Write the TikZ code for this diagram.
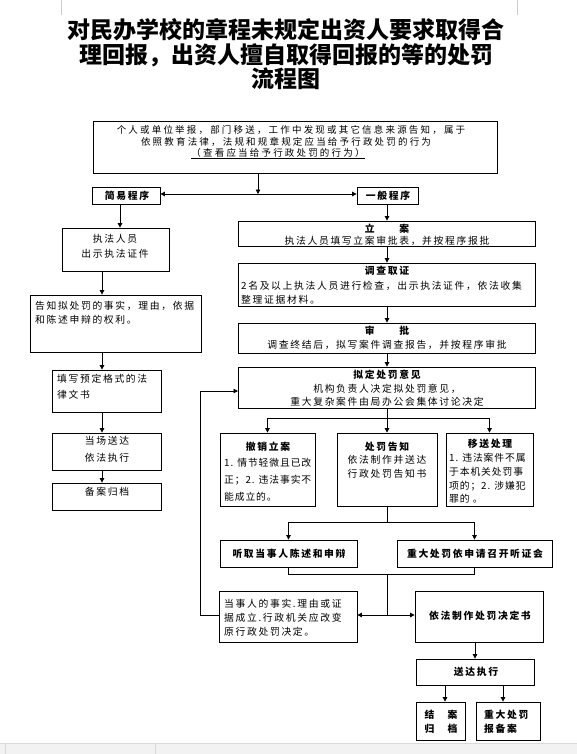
\documentclass[tikz,border=0pt]{standalone}
\usepackage{fontspec}
\usetikzlibrary{arrows.meta,fit}
\newfontfamily\cjk[LetterSpace=17]{Noto Sans CJK SC}
\newfontfamily\cjkn[LetterSpace=9]{Noto Sans CJK SC}
\newfontfamily\cjktop[LetterSpace=23]{Noto Sans CJK SC}
\newfontfamily\cjktitle{Noto Sans CJK SC}
\tikzset{
  box/.style={draw, line width=0.8pt, inner sep=0pt},
  tx/.style={inner sep=0pt, font=\cjk\fontsize{9.8}{13}\selectfont},
  txn/.style={inner sep=0pt, font=\cjkn\fontsize{9.8}{13}\selectfont},
  txt/.style={inner sep=0pt, font=\cjktop\fontsize{9.5}{12}\selectfont},
  tb/.style={inner sep=0pt, font=\cjk\bfseries\fontsize{9.8}{13}\selectfont},
  ttl/.style={inner sep=0pt, font=\cjktitle\bfseries\fontsize{23}{26}\selectfont},
  arr/.style={line width=0.8pt, -{Triangle[length=4.5pt,width=4.5pt]}},
  ln/.style={line width=0.8pt},
  marks/.style={draw=gray!40, line width=0.6pt}
}
\begin{document}
\begin{tikzpicture}[x=1pt,y=-1pt]
\useasboundingbox (0,0) rectangle (577,754);
\fill[white] (0,0) rectangle (577,754);
% page corner marks and status bar
\draw[marks] (61,0) -- (61,15);
\draw[marks] (517,0) -- (517,15);
\fill[gray!10] (0,743) rectangle (577,754);
\draw[gray!30] (0,743) -- (577,743);
\draw[gray!30] (5,743) -- (5,754);
\draw[gray!30] (155,743) -- (155,754);

% title
\node[ttl] (ti1) at (286,30) {对民办学校的章程未规定出资人要求取得合};
\node[ttl] (ti2) at (286,55) {理回报，出资人擅自取得回报的等的处罚};
\node[ttl] (ti3) at (286,79) {流程图};

% boxes
\node[box, fit={(93,121) (497,173)}] (top) {};
\node[box, fit={(92,187) (160,204)}] (jy) {};
\node[box, fit={(357,187) (418,204)}] (yb) {};
\node[box, fit={(62,228) (169,271)}] (zf) {};
\node[box, fit={(30,295) (201,352)}] (gz) {};
\node[box, fit={(52,370) (161,412)}] (txb) {};
\node[box, fit={(52,433) (161,470)}] (dc) {};
\node[box, fit={(52,483) (161,510)}] (ba) {};
\node[box, fit={(238,221) (535,246)}] (la) {};
\node[box, fit={(238,263) (535,306)}] (dcqz) {};
\node[box, fit={(238,323) (535,353)}] (sp) {};
\node[box, fit={(238,367) (535,408)}] (nd) {};
\node[box, fit={(220,433) (315,506)}] (cx) {};
\node[box, fit={(337,433) (437,506)}] (cf) {};
\node[box, fit={(446,433) (533,506)}] (ys) {};
\node[box, fit={(220,540) (357,567)}] (tq) {};
\node[box, fit={(397,540) (552,567)}] (zd) {};
\node[box, fit={(219,591) (357,642)}] (ds) {};
\node[box, fit={(415,591) (543,642)}] (jd) {};
\node[box, fit={(416,659) (534,685)}] (sd) {};
\node[box, fit={(416,702) (465,740)}] (ja) {};
\node[box, fit={(476,702) (540,740)}] (bb) {};

% texts: top box
\node[txt] (a1) at (291,130) {个人或单位举报，部门移送，工作中发现或其它信息来源告知，属于};
\node[txt] (a2) at (286,142) {依照教育法律，法规和规章规定应当给予行政处罚的行为};
\node[txt] (a3) at (278,153.5) {\underline{（查看应当给予行政处罚的行为）}};

\node[tb] (b1t) at (127,195.5) {简易程序};
\node[tb] (b2t) at (388,195.5) {一般程序};

% left column
\node[tx] (z1) at (115,239) {执法人员};
\node[tx] (z2) at (115,254) {出示执法证件};
\node[tx, anchor=west] (g1) at (35,306) {告知拟处罚的事实，理由，依据};
\node[tx, anchor=west] (g2) at (35,320) {和陈述申辩的权利。};
\node[tx, anchor=west] (t1) at (57,379) {填写预定格式的法};
\node[tx, anchor=west] (t2) at (57,395) {律文书};
\node[tx] (d1) at (107,441) {当场送达};
\node[tx] (d2) at (107,458) {依法执行};
\node[tx] (ba1) at (107,492) {备案归档};

% right column
\node[tb] (l1) at (387,228.5) {立　　案};
\node[tx] (l2) at (387,240.5) {执法人员填写立案审批表，并按程序报批};
\node[tb] (q1) at (387,271) {调查取证};
\node[tx, anchor=west] (q2) at (241,286) {2名及以上执法人员进行检查，出示执法证件，依法收集};
\node[tx, anchor=west] (q3) at (241,300) {整理证据材料。};
\node[tb] (s1) at (387,331) {审　　批};
\node[tx] (s2) at (387,344.5) {调查终结后，拟写案件调查报告，并按程序审批};
\node[tb] (n1) at (387,375) {拟定处罚意见};
\node[tx] (n2) at (387,388.5) {机构负责人决定拟处罚意见，};
\node[tx] (n3) at (387,401.5) {重大复杂案件由局办公会集体讨论决定};

\node[tb] (c1) at (268,447) {撤销立案};
\node[txn, anchor=west] (c2) at (224,463) {1. 情节轻微且已改};
\node[txn, anchor=west] (c3) at (224,480) {正；2. 违法事实不};
\node[txn, anchor=west] (c4) at (224,497) {能成立的。};

\node[tb] (f1) at (387,447) {处罚告知};
\node[tx] (f2) at (387,460) {依法制作并送达};
\node[tx] (f3) at (387,474) {行政处罚告知书};

\node[tb] (y1) at (490,444) {移送处理};
\node[txn, anchor=west] (y2) at (449,458) {1. 违法案件不属};
\node[txn, anchor=west] (y3) at (449,472) {于本机关处罚事};
\node[txn, anchor=west] (y4) at (449,486) {项的；2. 涉嫌犯};
\node[txn, anchor=west] (y5) at (449,499) {罪的 。};

\node[tb] (tq1) at (289,553.5) {听取当事人陈述和申辩};
\node[tb] (zd1) at (475,553.5) {重大处罚依申请召开听证会};

\node[tx, anchor=west] (e1) at (224,604) {当事人的事实.理由或证};
\node[tx, anchor=west] (e2) at (224,618) {据成立.行政机关应改变};
\node[tx, anchor=west] (e3) at (224,632) {原行政处罚决定。};

\node[tb] (jd1) at (480,616) {依法制作处罚决定书};
\node[tb] (sd1) at (476,672) {送达执行};
\node[tb] (ja1) at (441,715) {结　案};
\node[tb] (ja2) at (441,729) {归　档};
\node[tb, anchor=west] (bb1) at (484,715) {重大处罚};
\node[tb, anchor=west] (bb2) at (484,729) {报备案};

% connectors
\coordinate (j1) at (258,194);
\draw[arr] (j1 |- top.south) -- (j1);
\draw[arr] (j1) -- (j1 -| jy.east);
\draw[arr] (j1) -- (j1 -| yb.west);

\coordinate (cL) at (120,0);
\coordinate (cM) at (102,0);
\draw[arr] (cL |- jy.south) -- (cL |- zf.north);
\draw[arr] (cM |- zf.south) -- (cM |- gz.north);
\draw[arr] (cM |- gz.south) -- (cM |- txb.north);
\draw[arr] (cM |- txb.south) -- (cM |- dc.north);
\draw[arr] (cM |- dc.south) -- (cM |- ba.north);

\coordinate (cR) at (387,0);
\draw[arr] (cR |- yb.south) -- (cR |- la.north);
\draw[arr] (cR |- la.south) -- (cR |- dcqz.north);
\draw[arr] (cR |- dcqz.south) -- (cR |- sp.north);
\draw[arr] (cR |- sp.south) -- (cR |- nd.north);

\coordinate (k1) at (387,418);
\draw[ln] (cR |- nd.south) -- (k1);
\draw[ln] (cx.north |- k1) -- (ys.north |- k1);
\draw[arr] (cx.north |- k1) -- (cx.north);
\draw[arr] (k1) -- (cR |- cf.north);
\draw[arr] (ys.north |- k1) -- (ys.north);

\coordinate (k2) at (387,522);
\draw[ln] (cR |- cf.south) -- (k2);
\draw[ln] (tq.north |- k2) -- (zd.north |- k2);
\draw[arr] (tq.north |- k2) -- (tq.north);
\draw[arr] (zd.north |- k2) -- (zd.north);

\coordinate (k3) at (387,574);
\coordinate (k4) at (387,615);
\draw[ln] (tq.south) -- (tq.south |- k3) -- (zd.south |- k3) -- (zd.south);
\draw[ln] (k3) -- (k4);
\draw[arr] (k4) -- (k4 -| ds.east);
\draw[arr] (k4) -- (k4 -| jd.west);

\coordinate (fb) at (200,0);
\coordinate (fbin) at (238,391);
\draw[arr] (ds.west |- k4) -- (fb |- k4) -- (fb |- fbin) -- (fbin);

\draw[arr] (sd.north |- jd.south) -- (sd.north);
\coordinate (c5) at (445,0);
\coordinate (c6) at (503,0);
\draw[arr] (c5 |- sd.south) -- (c5 |- ja.north);
\draw[arr] (c6 |- sd.south) -- (c6 |- bb.north);
\end{tikzpicture}
\end{document}
